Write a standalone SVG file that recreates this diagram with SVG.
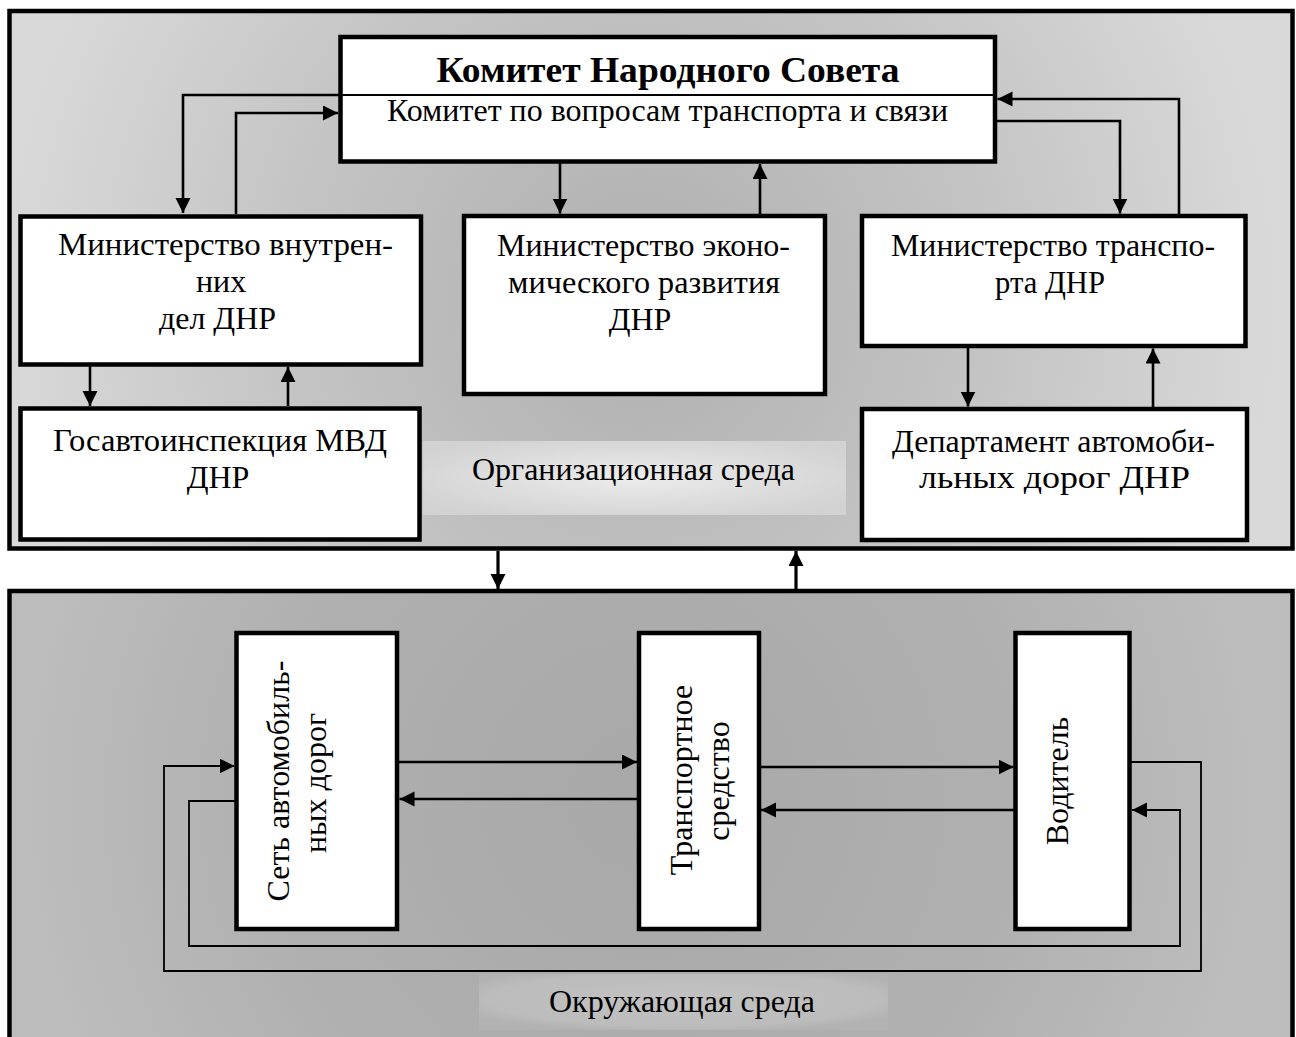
<svg xmlns="http://www.w3.org/2000/svg" width="1296" height="1037" viewBox="0 0 1296 1037">
<style>
  .cont { stroke: #000; stroke-width: 4.5; }
  .box { fill: #fff; stroke: #000; stroke-width: 4.5; }
  .t { font-family: "Liberation Serif", "Times New Roman", serif; font-size: 32px; fill: #000; text-anchor: middle; }
  .tb { font-family: "Liberation Serif", "Times New Roman", serif; font-size: 36px; font-weight: bold; fill: #000; text-anchor: middle; }
  .c { fill: none; stroke: #000; stroke-width: 2.6; }
  .ct { fill: none; stroke: #000; stroke-width: 3.2; }
  .cl { fill: none; stroke: #000; stroke-width: 1.8; }
  .arr { marker-end: url(#ah); }
</style>
<defs>
  <marker id="ah" markerUnits="userSpaceOnUse" markerWidth="16" markerHeight="16" refX="15" refY="7.5" orient="auto">
    <path d="M0,0 L15,7.5 L0,15 Z" fill="#000"/>
  </marker>
  <radialGradient id="gTop" gradientUnits="userSpaceOnUse" cx="640" cy="300" r="640">
    <stop offset="0" stop-color="#afafaf"/>
    <stop offset="0.55" stop-color="#c4c4c4"/>
    <stop offset="1" stop-color="#d9d9d9"/>
  </radialGradient>
  <radialGradient id="gBot" gradientUnits="userSpaceOnUse" cx="640" cy="800" r="620">
    <stop offset="0" stop-color="#a8a8a8"/>
    <stop offset="0.6" stop-color="#b0b0b0"/>
    <stop offset="1" stop-color="#bdbdbd"/>
  </radialGradient>
  <radialGradient id="gOrg" cx="0.5" cy="0.5" r="0.6">
    <stop offset="0" stop-color="#ececec"/>
    <stop offset="1" stop-color="#d2d2d2"/>
  </radialGradient>
  <radialGradient id="gEnv" cx="0.5" cy="0.45" r="0.6">
    <stop offset="0" stop-color="#c2c2c2"/>
    <stop offset="0.8" stop-color="#bcbcbc"/>
    <stop offset="1" stop-color="#b2b2b2"/>
  </radialGradient>
</defs>
<rect width="1296" height="1037" fill="#fff"/>

<g id="org-env">
  <rect class="cont" x="9.5" y="11" width="1283" height="537.5" fill="url(#gTop)"/>
  <rect x="423" y="441" width="423" height="74" fill="url(#gOrg)"/>
  <text class="t" x="633.5" y="480" textLength="323" lengthAdjust="spacingAndGlyphs">Организационная среда</text>
</g>

<g id="outer-env">
  <rect class="cont" x="9.5" y="591" width="1283" height="470" fill="url(#gBot)"/>
  <rect x="479" y="974" width="409" height="56" fill="url(#gEnv)"/>
  <text class="t" x="682" y="1012" textLength="266" lengthAdjust="spacingAndGlyphs">Окружающая среда</text>
</g>

<g id="committee">
  <rect class="box" x="340.5" y="37" width="654.5" height="124.5"/>
  <line x1="340.5" y1="95" x2="995" y2="95" stroke="#000" stroke-width="2.2"/>
  <text class="tb" x="668" y="82" textLength="463" lengthAdjust="spacingAndGlyphs">Комитет Народного Совета</text>
  <text class="t" x="667.5" y="121" textLength="561" lengthAdjust="spacingAndGlyphs">Комитет по вопросам транспорта и связи</text>
</g>

<g id="mvd">
  <rect class="box" x="20.5" y="216.5" width="400.5" height="148"/>
  <text class="t" x="225.5" y="255" textLength="335" lengthAdjust="spacingAndGlyphs">Министерство внутрен-</text>
  <text class="t" x="221" y="292">них</text>
  <text class="t" x="217.5" y="329">дел ДНР</text>
</g>

<g id="econ">
  <rect class="box" x="464" y="216" width="361" height="178"/>
  <text class="t" x="643.5" y="256" textLength="293" lengthAdjust="spacingAndGlyphs">Министерство эконо-</text>
  <text class="t" x="644" y="293" textLength="272" lengthAdjust="spacingAndGlyphs">мического развития</text>
  <text class="t" x="640" y="330">ДНР</text>
</g>

<g id="transport-ministry">
  <rect class="box" x="862" y="216" width="383.5" height="130"/>
  <text class="t" x="1053" y="256" textLength="324" lengthAdjust="spacingAndGlyphs">Министерство транспо-</text>
  <text class="t" x="1050" y="293" textLength="110" lengthAdjust="spacingAndGlyphs">рта ДНР</text>
</g>

<g id="gai">
  <rect class="box" x="20.5" y="408.5" width="399" height="131"/>
  <text class="t" x="220" y="451" textLength="334" lengthAdjust="spacingAndGlyphs">Госавтоинспекция МВД</text>
  <text class="t" x="218" y="488">ДНР</text>
</g>

<g id="roads-dept">
  <rect class="box" x="862" y="409" width="385" height="131"/>
  <text class="t" x="1053.5" y="452" textLength="323" lengthAdjust="spacingAndGlyphs">Департамент автомоби-</text>
  <text class="t" x="1054.5" y="488" textLength="271" lengthAdjust="spacingAndGlyphs">льных дорог ДНР</text>
</g>

<g id="road-network">
  <rect class="box" x="236.5" y="633" width="160.5" height="296"/>
  <text class="t" transform="translate(289,781) rotate(-90)" x="0" y="0">Сеть автомобиль-</text>
  <text class="t" transform="translate(326,783) rotate(-90)" x="0" y="0">ных дорог</text>
</g>

<g id="vehicle">
  <rect class="box" x="639" y="633" width="120" height="296"/>
  <text class="t" transform="translate(692,780) rotate(-90)" x="0" y="0">Транспортное</text>
  <text class="t" transform="translate(729,781) rotate(-90)" x="0" y="0">средство</text>
</g>

<g id="driver">
  <rect class="box" x="1015.5" y="633" width="114" height="296"/>
  <text class="t" transform="translate(1068,781) rotate(-90)" x="0" y="0">Водитель</text>
</g>

<g id="connectors">
  <path class="c" d="M340.5,95 H183 V213" marker-end="url(#ah)"/>
  <path class="c" d="M236,214 V113 H338" marker-end="url(#ah)"/>
  <path class="c" d="M1179,214 V99 H997.5" marker-end="url(#ah)"/>
  <path class="c" d="M997,121 H1120 V213.5" marker-end="url(#ah)"/>
  <path class="c" d="M560,163 V213.5" marker-end="url(#ah)"/>
  <path class="c" d="M760,214 V164" marker-end="url(#ah)"/>

  <path class="c" d="M90,366 V406" marker-end="url(#ah)"/>
  <path class="c" d="M288,406 V367" marker-end="url(#ah)"/>
  <path class="c" d="M968,348 V406.5" marker-end="url(#ah)"/>
  <path class="c" d="M1153,407 V348.5" marker-end="url(#ah)"/>

  <path class="ct" d="M498,551 V589" marker-end="url(#ah)"/>
  <path class="ct" d="M796,589 V551" marker-end="url(#ah)"/>

  <path class="c" d="M399,762 H637" marker-end="url(#ah)"/>
  <path class="c" d="M639,799 H399.5" marker-end="url(#ah)"/>
  <path class="c" d="M759,767 H1013.5" marker-end="url(#ah)"/>
  <path class="c" d="M1015,810 H761" marker-end="url(#ah)"/>

  <path class="cl" d="M1130,762 H1201 V971 H164 V766 H234.5" marker-end="url(#ah)"/>
  <path class="cl" d="M236,801 H189 V946 H1180 V810 H1132" marker-end="url(#ah)"/>
</g>
</svg>
